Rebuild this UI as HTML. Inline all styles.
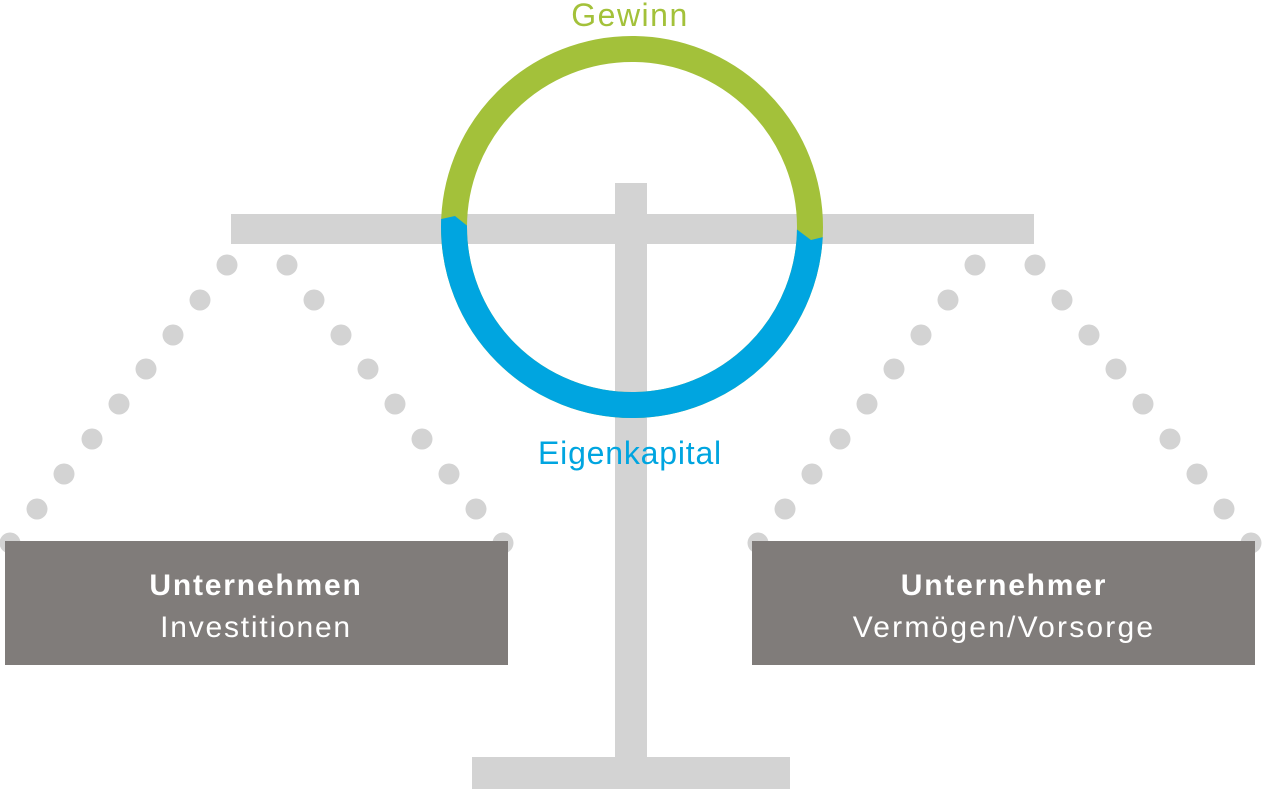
<!DOCTYPE html>
<html><head><style>
html,body{margin:0;padding:0;background:#fff;width:1262px;height:789px;overflow:hidden}
svg{display:block}
</style></head><body>
<svg width="1262" height="789" viewBox="0 0 1262 789" xmlns="http://www.w3.org/2000/svg">
<g fill="#d3d3d3">
<rect x="231" y="214" width="803" height="30"/>
<rect x="615" y="183" width="32" height="574"/>
<rect x="472" y="757" width="318" height="32"/>
</g>
<g fill="#d3d3d3">
<circle cx="227" cy="265" r="10.5"/><circle cx="200" cy="300" r="10.5"/><circle cx="173" cy="335" r="10.5"/><circle cx="146" cy="369" r="10.5"/><circle cx="119" cy="404" r="10.5"/><circle cx="92" cy="439" r="10.5"/><circle cx="64" cy="474" r="10.5"/><circle cx="37" cy="509" r="10.5"/><circle cx="10" cy="543" r="10.5"/>
<circle cx="287" cy="265" r="10.5"/><circle cx="314" cy="300" r="10.5"/><circle cx="341" cy="335" r="10.5"/><circle cx="368" cy="369" r="10.5"/><circle cx="395" cy="404" r="10.5"/><circle cx="422" cy="439" r="10.5"/><circle cx="449" cy="474" r="10.5"/><circle cx="476" cy="509" r="10.5"/><circle cx="503" cy="543" r="10.5"/>
<circle cx="975" cy="265" r="10.5"/><circle cx="948" cy="300" r="10.5"/><circle cx="921" cy="335" r="10.5"/><circle cx="894" cy="369" r="10.5"/><circle cx="867" cy="404" r="10.5"/><circle cx="840" cy="439" r="10.5"/><circle cx="812" cy="474" r="10.5"/><circle cx="785" cy="509" r="10.5"/><circle cx="758" cy="543" r="10.5"/>
<circle cx="1035" cy="265" r="10.5"/><circle cx="1062" cy="300" r="10.5"/><circle cx="1089" cy="335" r="10.5"/><circle cx="1116" cy="369" r="10.5"/><circle cx="1143" cy="404" r="10.5"/><circle cx="1170" cy="439" r="10.5"/><circle cx="1197" cy="474" r="10.5"/><circle cx="1224" cy="509" r="10.5"/><circle cx="1251" cy="543" r="10.5"/>
</g>
<defs>
<clipPath id="cb"><polygon points="400,228 455,216 470,228 795,228 811,240 860,228 860,440 400,440"/></clipPath>
</defs>
<circle cx="632" cy="227" r="178" fill="none" stroke="#a3c13a" stroke-width="26"/>
<circle cx="632" cy="227" r="178" fill="none" stroke="#00a5e0" stroke-width="26" clip-path="url(#cb)"/>
<rect x="5" y="541" width="503" height="124" fill="#807c7a"/>
<rect x="752" y="541" width="503" height="124" fill="#807c7a"/>
<g font-family="Liberation Sans, sans-serif" text-anchor="middle">
<text x="630" y="26" font-size="32" letter-spacing="1.5" fill="#a3c13a">Gewinn</text>
<text x="630" y="464" font-size="32" letter-spacing="0.8" fill="#00a5e0">Eigenkapital</text>
<text x="256" y="595" font-size="30" font-weight="bold" letter-spacing="1.8" fill="#fff">Unternehmen</text>
<text x="256" y="637" font-size="30" letter-spacing="1.8" fill="#fff">Investitionen</text>
<text x="1004" y="595" font-size="30" font-weight="bold" letter-spacing="1.8" fill="#fff">Unternehmer</text>
<text x="1004" y="637" font-size="30" letter-spacing="2.2" fill="#fff">Vermögen/Vorsorge</text>
</g>
</svg>
</body></html>
